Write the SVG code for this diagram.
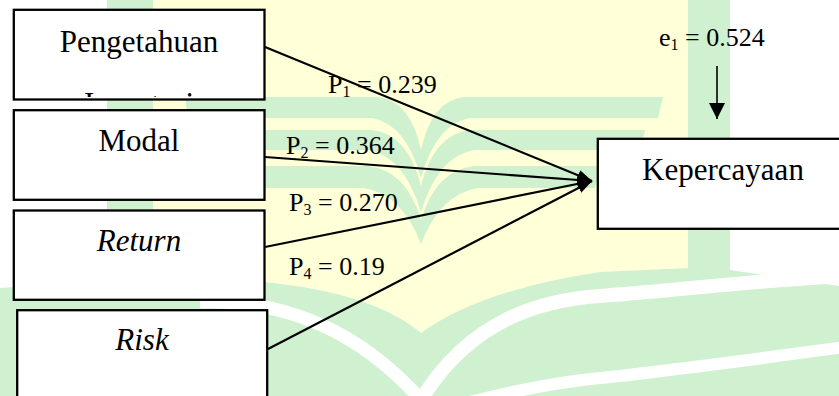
<svg xmlns="http://www.w3.org/2000/svg" width="839" height="396" viewBox="0 0 839 396">
  <defs>
    <style>
      .box { fill: #ffffff; stroke: #000000; stroke-width: 2.3; }
      .lbl { font-family: "Liberation Serif", "Times New Roman", serif; fill: #000000; }
      .name { font-size: 31px; text-anchor: middle; }
      .it { font-style: italic; }
      .coef { font-size: 26px; }
      .sub { font-size: 16px; }
      .path { stroke: #000000; stroke-width: 2.2; fill: none; marker-end: url(#head); }
      .err { stroke: #000000; stroke-width: 1.6; fill: none; marker-end: url(#head-err); }
      .wm-y { fill: #ffffd8; }
      .wm-g { fill: #cff1cf; }
      .wm-w { fill: none; stroke: #ffffff; }
    </style>
    <marker id="head" markerUnits="userSpaceOnUse" viewBox="0 0 15 11" refX="15" refY="5.5" markerWidth="15" markerHeight="11" orient="auto">
      <path d="M0,0 L15,5.5 L0,11 Z" fill="#000000"/>
    </marker>
    <marker id="head-err" markerUnits="userSpaceOnUse" viewBox="0 0 16 16" refX="16" refY="8" markerWidth="16" markerHeight="16" orient="auto">
      <path d="M0,0 L16,8 L0,16 Z" fill="#000000"/>
    </marker>
    <!-- text area of the first box: the second line runs past its lower edge -->
    <clipPath id="clip-b1">
      <rect x="15" y="11" width="248" height="86"/>
    </clipPath>
  </defs>

  <rect x="0" y="0" width="839" height="396" fill="#ffffff"/>

  <!-- faint background emblem -->
  <g id="emblem">
    <path class="wm-y" d="M153,0 H688 V268 L600,272 Q480,290 421,333 Q372,292 262,282 L153,272 Z"/>
    <path class="wm-g" d="M0,288 L107,280 L107,0 H153 V272 L262,282 Q372,292 421,333 Q480,290 600,272 L688,268 V0 H730 V270 L839,286 V396 H0 Z"/>
    <path class="wm-w" stroke-width="13" d="M200,302 Q330,298 421,400"/>
    <path class="wm-w" stroke-width="14" d="M421,400 C470,320 540,300 600,296 S760,280 845,276"/>
    <path class="wm-w" stroke-width="12" d="M470,402 Q540,384 600,378 T845,347"/>
    <path class="wm-g" d="M185,97 L378,97 Q410,100 421,150 Q432,100 464,97 L663,97 L658,118 L470,118 Q436,124 421,178 Q406,124 372,118 L188,118 Z"/>
    <path class="wm-g" d="M200,130 L372,130 Q408,134 421,186 Q434,134 470,130 L645,130 L640,150 L474,150 Q438,156 421,212 Q404,156 368,150 L205,150 Z"/>
    <path class="wm-g" d="M245,166 L368,166 Q406,170 421,220 Q436,170 474,166 L600,166 L595,188 L478,188 Q440,194 421,244 Q402,194 364,188 L250,188 Z"/>
  </g>

  <!-- connectors -->
  <g id="connectors">
    <line class="path" x1="265" y1="47" x2="592" y2="181"/>
    <line class="path" x1="265" y1="157" x2="592" y2="181"/>
    <line class="path" x1="265" y1="247" x2="592" y2="181"/>
    <line class="path" x1="268" y1="349" x2="592" y2="181"/>
    <line class="err" x1="717" y1="66" x2="717" y2="119"/>
    <text class="lbl coef" x="328" y="93">P<tspan class="sub" dy="4">1</tspan><tspan dy="-4"> = 0.239</tspan></text>
    <text class="lbl coef" x="286" y="154">P<tspan class="sub" dy="4">2</tspan><tspan dy="-4"> = 0.364</tspan></text>
    <text class="lbl coef" x="289" y="211">P<tspan class="sub" dy="4">3</tspan><tspan dy="-4"> = 0.270</tspan></text>
    <text class="lbl coef" x="289" y="275">P<tspan class="sub" dy="4">4</tspan><tspan dy="-4"> = 0.19</tspan></text>
    <text class="lbl coef" x="659" y="46">e<tspan class="sub" dy="4">1</tspan><tspan dy="-4"> = 0.524</tspan></text>
  </g>

  <g id="node-pengetahuan">
    <rect class="box" x="13.8" y="9.8" width="250.7" height="89.7"/>
    <g clip-path="url(#clip-b1)">
      <text class="lbl name" x="139" y="52">Pengetahuan</text>
      <text class="lbl name" x="139" y="113.5">Investasi</text>
    </g>
  </g>

  <g id="node-modal">
    <rect class="box" x="13.8" y="110.2" width="250.7" height="89.6"/>
    <text class="lbl name" x="139" y="151">Modal</text>
  </g>

  <g id="node-return">
    <rect class="box" x="13.8" y="210.5" width="250.7" height="89.3"/>
    <text class="lbl name it" x="139" y="251">Return</text>
  </g>

  <g id="node-risk">
    <rect class="box" x="17.2" y="310.2" width="250" height="100"/>
    <text class="lbl name it" x="142" y="350">Risk</text>
  </g>

  <g id="node-kepercayaan">
    <rect class="box" x="597.8" y="138.8" width="251" height="90"/>
    <text class="lbl name" x="723" y="180">Kepercayaan</text>
  </g>
</svg>
